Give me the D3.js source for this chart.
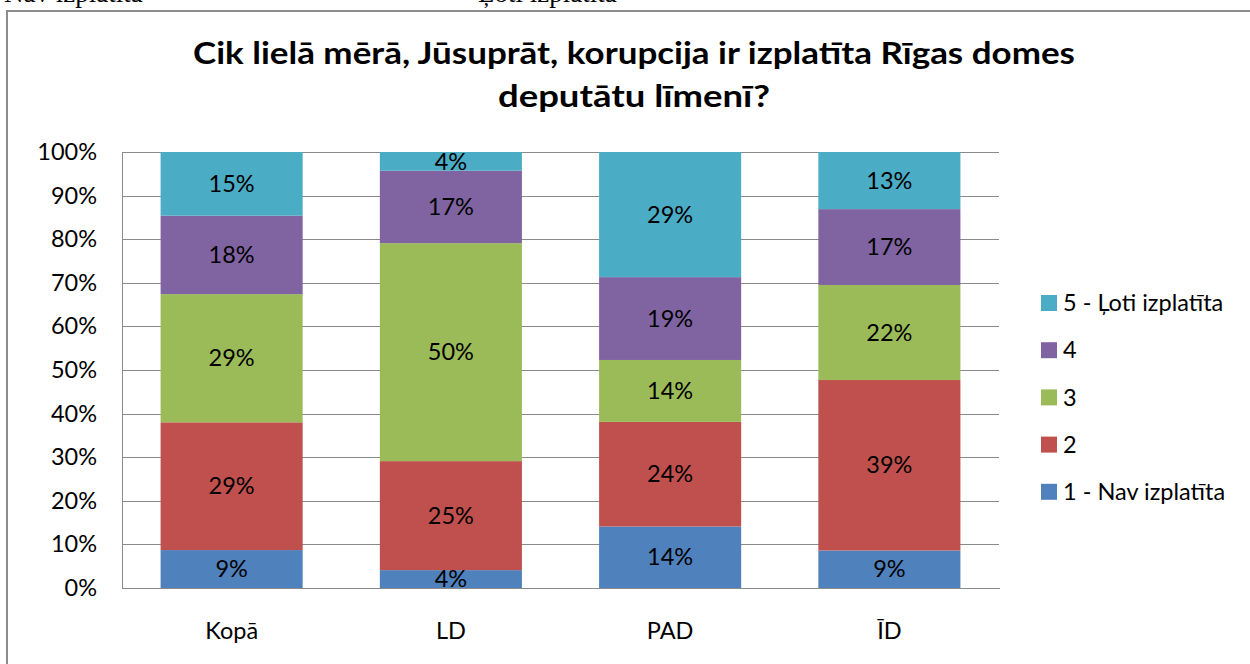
<!DOCTYPE html>
<html lang="lv">
  <head>
    <meta charset="utf-8">
    <script src="https://cdn.jsdelivr.net/npm/d3@7"></script>
    <style>
      body { margin: 0; background: #fff; }
      svg { display: block; }
      .chart text { font-family: Lato, "Open Sans", sans-serif; fill: #000; }
      .doc text { font-family: "Liberation Serif", serif; fill: #000; }
    </style>
  </head>
  <body>
    <svg id="chart" width="1250" height="664"></svg>
    <script>

      // chart data
      var categories = ["Kopā", "LD", "PAD", "ĪD"];
      var seriesNames = ["1 - Nav izplatīta", "2", "3", "4", "5 - Ļoti izplatīta"];
      var seriesColors = ["#4f81bd", "#c0504d", "#9bbb59", "#8064a2", "#4bacc6"];
      var s1 = [8.7, 4.1, 14.1, 8.6];
      var s2 = [29.3, 25.0, 24.0, 39.1];
      var s3 = [29.4, 50.0, 14.2, 21.8];
      var s4 = [18.0, 16.6, 19.0, 17.4];
      var s5 = [14.6, 4.3, 28.7, 13.1];
      var yTicks = [0, 10, 20, 30, 40, 50, 60, 70, 80, 90, 100];
      var titleLines = ["Cik lielā mērā, Jūsuprāt, korupcija ir izplatīta Rīgas domes", "deputātu līmenī?"];

      var seriesValues = [s1, s2, s3, s4, s5];
      var fs = 23.5;

      var rows = categories.map(function(c, i) {
        var r = {cat: c};
        seriesNames.forEach(function(n, j) { r[n] = seriesValues[j][i]; });
        return r;
      });

      var svg = d3.select("#chart");

      // bits of the document text above the chart, clipped by the page edge
      var doc = svg.append("g").attr("class", "doc");
      doc.append("text").attr("x", 4).attr("y", 2).attr("font-size", 27).text("Nav izplatīta");
      doc.append("text").attr("x", 478).attr("y", 2).attr("font-size", 27).text("Ļoti izplatīta");

      // outer chart frame
      svg.append("rect")
        .attr("x", 7).attr("y", 11)
        .attr("width", 1300).attr("height", 700)
        .attr("fill", "none")
        .attr("stroke", "#8c8c8c")
        .attr("stroke-width", 2);

      var g = svg.append("g").attr("class", "chart");

      var plot = {left: 122, right: 999, top: 152, bottom: 588};

      var x = d3.scaleBand()
        .domain(categories)
        .range([plot.left, plot.right])
        .paddingInner(0.352)
        .paddingOuter(0.176);

      var y = d3.scaleLinear()
        .domain([0, 100])
        .range([plot.bottom, plot.top]);

      // title (the original face is narrower than Lato, so stretch to its width)
      var titleWidths = [882, 272];
      g.append("g").selectAll("text")
        .data(titleLines)
        .join("text")
          .attr("x", 634)
          .attr("y", function(d, i) { return i ? 107 : 64; })
          .attr("text-anchor", "middle")
          .attr("font-size", 30)
          .attr("font-weight", "bold")
          .attr("textLength", function(d, i) { return titleWidths[i]; })
          .attr("lengthAdjust", "spacingAndGlyphs")
          .text(function(d) { return d; });

      // gridlines
      g.append("g")
        .attr("transform", "translate(" + plot.left + ",0)")
        .call(d3.axisLeft(y).tickValues(yTicks).tickSize(-(plot.right - plot.left)).tickFormat(""))
        .call(function(s) {
          s.select(".domain").remove();
          s.selectAll("line").attr("stroke", "#8a8a8a").attr("shape-rendering", "crispEdges");
        });

      // y axis line + labels
      g.append("g")
        .attr("transform", "translate(" + plot.left + ",0)")
        .call(d3.axisLeft(y).tickValues(yTicks).tickSize(0).tickPadding(25)
          .tickFormat(function(d) { return d + "%"; }))
        .call(function(s) {
          s.select(".domain").attr("stroke", "#8a8a8a").attr("shape-rendering", "crispEdges");
          s.selectAll("text").attr("font-size", fs).attr("font-family", "Lato, sans-serif").attr("fill", "#000");
        });

      // stacked bars
      var stack = d3.stack().keys(seriesNames)(rows);

      var layers = g.append("g").selectAll("g.layer")
        .data(stack)
        .join("g")
          .attr("class", "layer")
          .attr("fill", function(d, i) { return seriesColors[i]; });

      layers.selectAll("rect")
        .data(function(d) { return d; })
        .join("rect")
          .attr("x", function(d) { return x(d.data.cat); })
          .attr("width", x.bandwidth())
          .attr("y", function(d) { return y(d[1]); })
          .attr("height", function(d) { return y(d[0]) - y(d[1]); });

      layers.selectAll("text")
        .data(function(d) { return d; })
        .join("text")
          .attr("x", function(d) { return x(d.data.cat) + x.bandwidth() / 2; })
          .attr("y", function(d) { return (y(d[0]) + y(d[1])) / 2; })
          .attr("dy", "0.35em")
          .attr("text-anchor", "middle")
          .attr("font-size", fs)
          .text(function(d) { return Math.round(d[1] - d[0]) + "%"; });

      // x axis labels
      g.append("g")
        .attr("transform", "translate(0," + plot.bottom + ")")
        .call(d3.axisBottom(x).tickSize(0).tickPadding(34))
        .call(function(s) {
          s.select(".domain").attr("stroke", "#8a8a8a").attr("shape-rendering", "crispEdges");
          s.selectAll("text").attr("font-size", fs).attr("font-family", "Lato, sans-serif").attr("fill", "#000");
        });

      // legend (top to bottom: 5 .. 1)
      var legend = g.append("g").selectAll("g.item")
        .data(seriesNames.slice().reverse())
        .join("g")
          .attr("class", "item")
          .attr("transform", function(d, i) { return "translate(1041," + (303 + i * 47.2) + ")"; });

      legend.append("rect")
        .attr("x", 0).attr("y", -8)
        .attr("width", 16).attr("height", 16)
        .attr("fill", function(d) { return seriesColors[seriesNames.indexOf(d)]; });

      legend.append("text")
        .attr("x", 22)
        .attr("dy", "0.35em")
        .attr("font-size", fs)
        .text(function(d) { return d; });

    </script>
  </body>
</html>
